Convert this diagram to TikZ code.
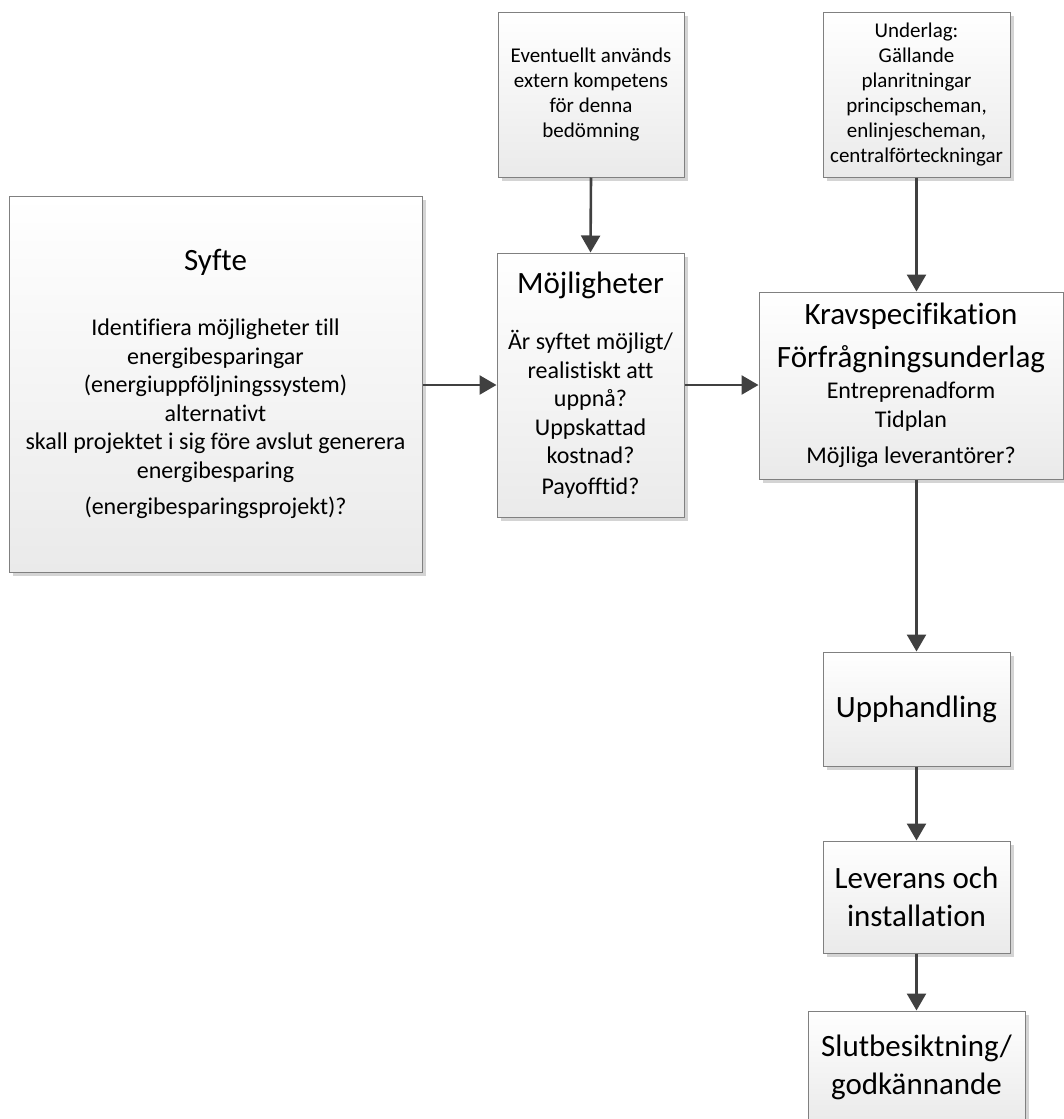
\documentclass[tikz,border=0pt]{standalone}
\usepackage{fontspec}
\setmainfont{Carlito}[Ligatures=NoCommon]
\definecolor{boxline}{RGB}{128,128,128}
\definecolor{boxbottom}{RGB}{234,234,234}
\definecolor{arrowgray}{RGB}{64,64,64}
\definecolor{shadowgray}{RGB}{212,212,212}
\newcommand{\ttl}{\fontsize{31}{38}\selectfont}
\newcommand{\bdy}{\fontsize{24}{28.5}\selectfont}
\newcommand{\sml}{\fontsize{21}{25}\selectfont}
\usetikzlibrary{arrows.meta,positioning,shadows}

\begin{document}
\begin{tikzpicture}[x=1pt, y=-1pt,
    stage/.style={draw=boxline, line width=1pt, top color=white, bottom color=boxbottom,
      inner sep=0pt, align=center, font=\bdy,
      drop shadow={shadow xshift=4pt, shadow yshift=-4pt, fill=shadowgray, opacity=1}},
    flow/.style={-{Triangle[length=17pt,width=19pt]}, line width=2.6pt, draw=arrowgray}]
    \useasboundingbox (0,0) rectangle (1064,1119);

    \node[stage, minimum width=413pt, minimum height=376pt] (syfte) at (215.5,384) {
      {\ttl Syfte}\\[37pt]
      Identifiera möjligheter till\\
      energibesparingar\\
      (energiuppföljningssystem)\\
      alternativt\\
      skall projektet i sig före avslut generera\\
      energibesparing\\[8pt]
      (energibesparingsprojekt)?};
    \node[stage, minimum width=187pt, minimum height=264pt] (moj) at (590.5,385) {
      {\ttl Möjligheter}\\[28pt]
      Är syftet möjligt/\\
      realistiskt att\\
      uppnå?\\
      Uppskattad\\
      kostnad?\\[2pt]
      Payofftid?};
    \node[stage, font=\sml, minimum width=186pt, minimum height=165pt] (extern) at (591,94.5) {
      Eventuellt används\\
      extern kompetens\\
      för denna\\
      bedömning};
    \node[stage, font=\sml, minimum width=187pt, minimum height=165pt] (underlag) at (916.5,94.5) {
      Underlag:\\
      Gällande\\
      planritningar\\
      principscheman,\\
      enlinjescheman,\\
      centralförteckningar};
    \node[stage, minimum width=304pt, minimum height=187pt] (krav) at (911,385.5) {
      {\ttl Kravspecifikation}\\[14pt]
      {\ttl Förfrågningsunderlag}\\[3pt]
      Entreprenadform\\
      Tidplan\\[8pt]
      Möjliga leverantörer?};
    \node[stage, font=\ttl, minimum width=187pt, minimum height=114pt] (upph) at (916.5,709) {Upphandling};
    \node[stage, font=\ttl, minimum width=187pt, minimum height=112pt] (lev) at (916.5,897) {
      Leverans och\\
      installation};
    \node[stage, font=\ttl, minimum width=217pt, minimum height=112pt] (slut) at (916.5,1067) {
      Slutbesiktning/\\
      godkännande};

    \draw[flow] (syfte.east |- moj.west) -- (moj.west);
    \draw[flow] (moj.east) -- (moj.east -| krav.west);
    \draw[flow] (extern.south) -- (moj.north);
    \draw[flow] (underlag.south) -- (underlag.south |- krav.north);
    \draw[flow] (upph.north |- krav.south) -- (upph.north);
    \draw[flow] (upph.south) -- (lev.north);
    \draw[flow] (lev.south) -- (slut.north);
\end{tikzpicture}
\end{document}
